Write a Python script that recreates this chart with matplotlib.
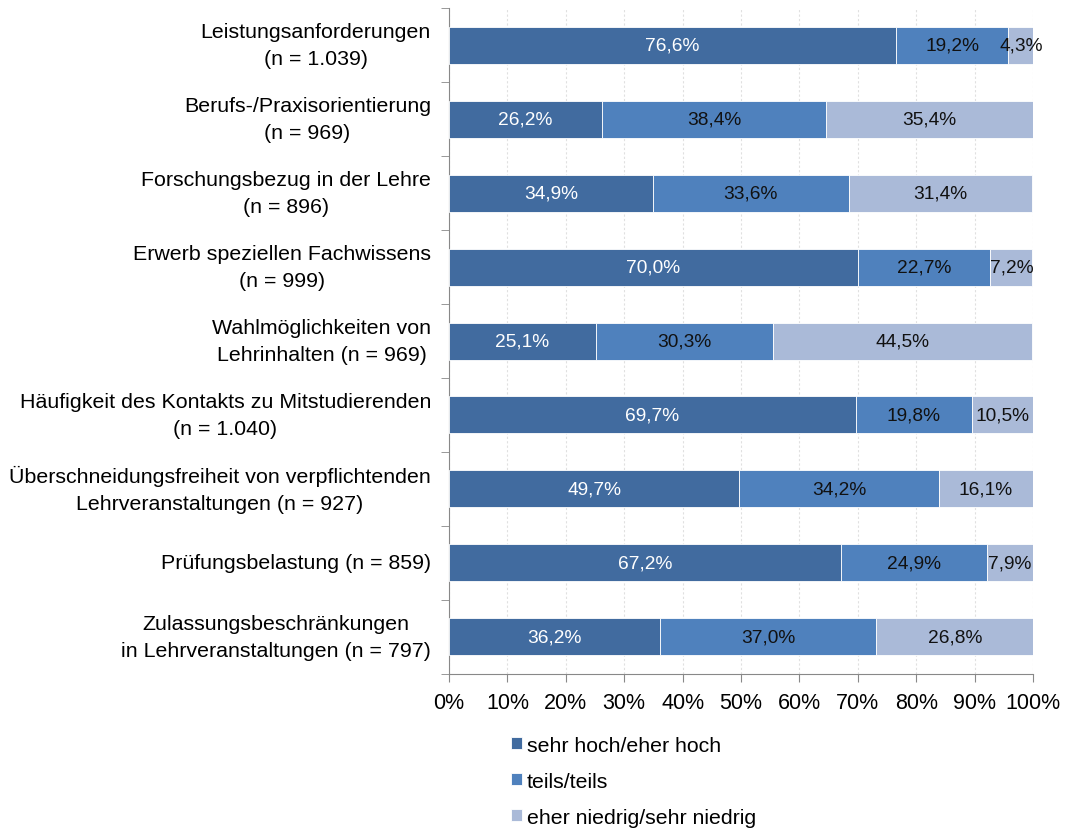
import numpy as np
import matplotlib
matplotlib.use("Agg")
import matplotlib.pyplot as plt

plt.rcParams["font.family"] = ["Liberation Sans", "DejaVu Sans"]

# Daten (von oben nach unten)
categories = [
    "Leistungsanforderungen\n(n = 1.039)",
    "Berufs-/Praxisorientierung\n(n = 969)",
    "Forschungsbezug in der Lehre\n(n = 896)",
    "Erwerb speziellen Fachwissens\n(n = 999)",
    "Wahlmöglichkeiten von\nLehrinhalten (n = 969)",
    "Häufigkeit des Kontakts zu Mitstudierenden\n(n = 1.040)",
    "Überschneidungsfreiheit von verpflichtenden\nLehrveranstaltungen (n = 927)",
    "Prüfungsbelastung (n = 859)",
    "Zulassungsbeschränkungen\nin Lehrveranstaltungen (n = 797)",
]
hoch = [76.6, 26.2, 34.9, 70.0, 25.1, 69.7, 49.7, 67.2, 36.2]
teils = [19.2, 38.4, 33.6, 22.7, 30.3, 19.8, 34.2, 24.9, 37.0]
niedrig = [4.3, 35.4, 31.4, 7.2, 44.5, 10.5, 16.1, 7.9, 26.8]

series_names = ["sehr hoch/eher hoch", "teils/teils", "eher niedrig/sehr niedrig"]
colors = ["#416B9F", "#4F81BD", "#AABAD8"]
text_colors = ["white", "#111111", "#111111"]

fig = plt.figure(figsize=(10.67, 8.29), dpi=100)
ax = fig.add_axes([0.4208, 0.1858, 0.5473, 0.8033])

y = np.arange(len(categories))
left = np.zeros(len(categories))
for vals, name, col, tcol in zip([hoch, teils, niedrig], series_names, colors, text_colors):
    vals = np.array(vals)
    ax.barh(y, vals, left=left, height=0.5, color=col, label=name,
            edgecolor="white", linewidth=0.6, zorder=3)
    for yi, l, v in zip(y, left, vals):
        ax.text(l + v / 2, yi, f"{v:.1f}%".replace(".", ","), ha="center",
                va="center", fontsize=13.8, color=tcol, zorder=4)
    left += vals

ax.set_xlim(0, 100)
ax.set_ylim(len(categories) - 0.5, -0.5)
ax.set_xticks(np.arange(0, 101, 10))
ax.set_xticklabels([f"{v}%" for v in range(0, 101, 10)], fontsize=15.5)
ax.set_yticks(y)
ax.set_yticklabels(categories, fontsize=15.4, multialignment="center",
                   linespacing=1.55)
for lbl in ax.get_yticklabels():
    lbl.set_va("center")
ax.tick_params(axis="y", length=0, pad=13)
ax.tick_params(axis="x", length=6, color="#888888", pad=7)

# kleine Trennstriche an der y-Achse
ax.set_yticks(np.arange(-0.5, len(categories), 1), minor=True)
ax.tick_params(axis="y", which="minor", length=6, color="#888888")

ax.grid(axis="x", color="#e0e0e0", linestyle=(0, (2, 2)), linewidth=0.8, zorder=0)
for s in ["top", "right"]:
    ax.spines[s].set_visible(False)
for s in ["left", "bottom"]:
    ax.spines[s].set_color("#888888")

fig.legend(loc="upper left", bbox_to_anchor=(0.4705, 0.1215), frameon=False,
           fontsize=15.3, handlelength=0.52, handleheight=0.5, handletextpad=0.25,
           labelspacing=0.8, borderaxespad=0)

fig.savefig("out.png", dpi=100)
